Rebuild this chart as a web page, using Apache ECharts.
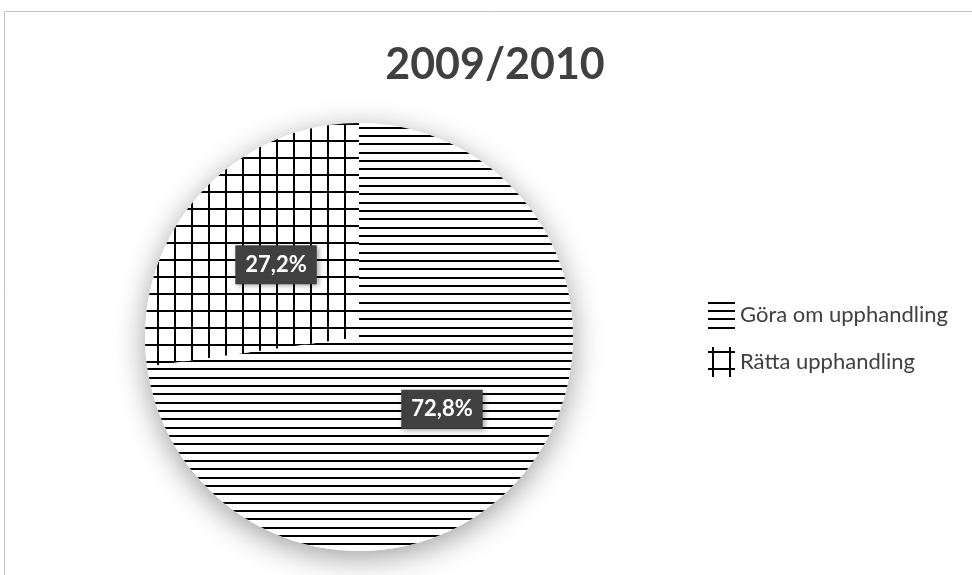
<!DOCTYPE html>
<html>
<head>
<meta charset="utf-8">
<script src="https://cdn.jsdelivr.net/npm/echarts@6/dist/echarts.min.js"></script>
<style>
  html, body { margin: 0; padding: 0; background: #ffffff; }
  #chart { width: 972px; height: 575px; }
</style>
</head>
<body>
<div id="chart"></div>
<script>
// Chart content
const chartTitle = '2009/2010';
const categories = ['Göra om upphandling', 'Rätta upphandling'];
const shares = [72.8, 27.2];

// Black-and-white hatch fills, built as small repeating canvas tiles
function hatchHorizontal() {
  const c = document.createElement('canvas');
  c.width = 25; c.height = 25;
  const g = c.getContext('2d');
  g.fillStyle = '#ffffff';
  g.fillRect(0, 0, 25, 25);
  g.fillStyle = '#000000';
  [2, 10, 18].forEach(y => g.fillRect(0, y, 25, 2));
  return c;
}
function hatchGrid() {
  const c = document.createElement('canvas');
  c.width = 17; c.height = 17;
  const g = c.getContext('2d');
  g.fillStyle = '#ffffff';
  g.fillRect(0, 0, 17, 17);
  g.fillStyle = '#000000';
  g.fillRect(4, 0, 2, 17);
  g.fillRect(0, 4, 17, 2);
  return c;
}
const fills = [
  { image: hatchHorizontal(), repeat: 'repeat' },
  { image: hatchGrid(), repeat: 'repeat' }
];

const chart = echarts.init(document.getElementById('chart'), null, { renderer: 'canvas' });

const pieCenter = [359, 337];
const pieRadius = 214;

chart.setOption({
  backgroundColor: '#ffffff',
  animation: false,
  title: {
    text: chartTitle,
    left: 495,
    textAlign: 'center',
    top: 44,
    padding: 0,
    textStyle: {
      fontFamily: 'Lato',
      fontWeight: 'bold',
      fontSize: 43,
      color: '#404040'
    }
  },
  graphic: [{
    type: 'rect',
    silent: true,
    shape: { x: 4.5, y: 11.5, width: 1000, height: 700 },
    style: { fill: 'none', stroke: '#c4c4c4', lineWidth: 1 },
    z: -1
  }],
  legend: {
    orient: 'vertical',
    left: 708,
    top: 300,
    padding: 0,
    itemWidth: 27,
    itemHeight: 30,
    itemGap: 17,
    icon: 'rect',
    data: categories,
    textStyle: {
      fontFamily: 'Lato',
      fontSize: 22,
      color: '#404040'
    }
  },
  series: [
    {
      // soft drop shadow under the whole disc
      type: 'pie',
      silent: true,
      center: pieCenter,
      radius: pieRadius,
      label: { show: false },
      labelLine: { show: false },
      itemStyle: {
        color: '#ffffff',
        shadowBlur: 30,
        shadowOffsetY: 7,
        shadowColor: 'rgba(0,0,0,0.38)'
      },
      data: [{ name: '_disc', value: 1 }],
      z: 1
    },
    {
      type: 'pie',
      center: pieCenter,
      radius: pieRadius,
      startAngle: 90,
      clockwise: true,
      z: 2,
      itemStyle: { borderWidth: 0 },
      label: {
        show: true,
        position: 'inside',
        formatter: p => p.value.toFixed(1).replace('.', ',') + '%',
        fontFamily: 'Lato',
        fontWeight: 'bold',
        fontSize: 22,
        color: '#ffffff',
        backgroundColor: '#404040',
        padding: [9, 10, 8, 10],
        shadowBlur: 5,
        shadowOffsetX: 2,
        shadowOffsetY: 2,
        shadowColor: 'rgba(0,0,0,0.35)'
      },
      labelLine: { show: false },
      emphasis: { disabled: true },
      data: categories.map((name, i) => ({
        name: name,
        value: shares[i],
        itemStyle: { color: fills[i] }
      }))
    }
  ]
});
</script>
</body>
</html>
